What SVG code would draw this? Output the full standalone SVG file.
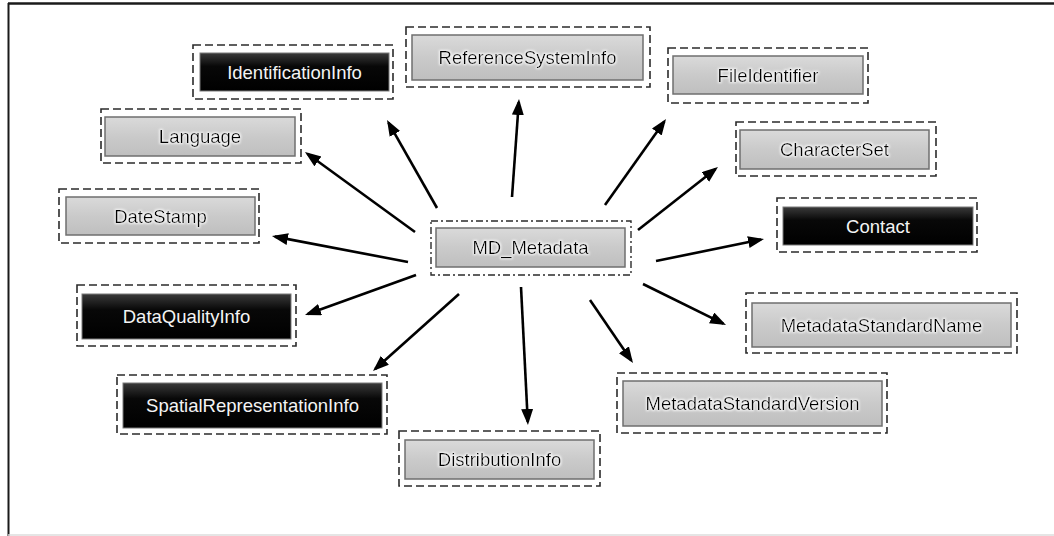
<svg xmlns="http://www.w3.org/2000/svg" width="1054" height="536" viewBox="0 0 1054 536">
  <defs>
    <linearGradient id="gGrey" x1="0" y1="0" x2="0" y2="1">
      <stop offset="0" stop-color="#dadada"/>
      <stop offset="0.5" stop-color="#cacaca"/>
      <stop offset="1" stop-color="#bfbfbf"/>
    </linearGradient>
    <linearGradient id="gBlack" x1="0" y1="0" x2="0" y2="1">
      <stop offset="0" stop-color="#3a3a3a"/>
      <stop offset="0.35" stop-color="#080808"/>
      <stop offset="1" stop-color="#000"/>
    </linearGradient>
    <!-- soft white halo behind dark labels -->
    <filter id="glow" x="-10%" y="-40%" width="120%" height="180%">
      <feMorphology in="SourceAlpha" operator="dilate" radius="1" result="d"/>
      <feGaussianBlur in="d" stdDeviation="1" result="b"/>
      <feFlood flood-color="#ffffff" flood-opacity="0.8"/>
      <feComposite in2="b" operator="in" result="halo"/>
      <feMerge>
        <feMergeNode in="halo"/>
        <feMergeNode in="SourceGraphic"/>
      </feMerge>
    </filter>
    <marker id="arrow" markerUnits="userSpaceOnUse" markerWidth="18" markerHeight="14" refX="13" refY="6" orient="auto">
      <path d="M0,0 L16,6 L0,12 Z" fill="#000"/>
    </marker>
    <style>
      .frame { stroke: #1a1a1a; fill: none; }
      .outer { fill: #fff; stroke: #2b2b2b; stroke-width: 1.6; stroke-dasharray: 8 4; }
      .outerMain { fill: #fff; stroke: #2b2b2b; stroke-width: 1.4; stroke-dasharray: 7 3 2 3; }
      .grey { fill: url(#gGrey); stroke: #6f6f6f; stroke-width: 1.5; }
      .black { fill: url(#gBlack); stroke: #7a7a7a; stroke-width: 1; }
      .lbl { font-family: "Liberation Sans", Arial, sans-serif; font-size: 18.5px; text-anchor: middle; }
      .dark { fill: #050505; filter: url(#glow); }
      .light { fill: #f4f4f4; }
      .conn line { stroke: #000; stroke-width: 2.6; marker-end: url(#arrow); }
    </style>
  </defs>

  <rect width="1054" height="536" fill="#fff"/>
  <!-- page frame -->
  <line class="frame" x1="8.5" y1="3" x2="8.5" y2="536" stroke-width="2"/>
  <line class="frame" x1="8" y1="3.5" x2="1054" y2="3.5" stroke-width="2.5"/>
  <line x1="8" y1="535" x2="1054" y2="535" stroke="#dcdcdc" stroke-width="1.5"/>

  <g class="conn">
    <line x1="437" y1="208" x2="388.5" y2="122.6"/>
    <line x1="512" y1="197" x2="518.8" y2="102"/>
    <line x1="605" y1="205" x2="664.3" y2="121.4"/>
    <line x1="638" y1="230" x2="715.6" y2="168.9"/>
    <line x1="656" y1="261" x2="761.1" y2="239.6"/>
    <line x1="643" y1="284" x2="723.3" y2="323.7"/>
    <line x1="590" y1="300" x2="631.3" y2="360.5"/>
    <line x1="521" y1="287" x2="527.8" y2="422"/>
    <line x1="459" y1="294" x2="375.2" y2="369"/>
    <line x1="416" y1="275" x2="307.8" y2="314"/>
    <line x1="408" y1="262" x2="274.9" y2="236.6"/>
    <line x1="415" y1="232" x2="307.4" y2="153.8"/>
  </g>

  <g id="md-metadata">
    <rect class="outerMain" x="431" y="221" width="200" height="54"/>
    <rect class="grey" x="436" y="228" width="189" height="39"/>
    <text class="lbl dark" x="530.5" y="254">MD_Metadata</text>
  </g>

  <g id="identification-info">
    <rect class="outer" x="193" y="45" width="200" height="54"/>
    <rect class="black" x="200" y="53" width="189" height="38"/>
    <text class="lbl light" x="294.5" y="78.5">IdentificationInfo</text>
  </g>

  <g id="reference-system-info">
    <rect class="outer" x="406" y="27" width="244" height="60"/>
    <rect class="grey" x="412" y="35" width="231" height="45"/>
    <text class="lbl dark" x="527.5" y="64">ReferenceSystemInfo</text>
  </g>

  <g id="file-identifier">
    <rect class="outer" x="668" y="48" width="200" height="55"/>
    <rect class="grey" x="673" y="56" width="190" height="38"/>
    <text class="lbl dark" x="768" y="81.5">FileIdentifier</text>
  </g>

  <g id="character-set">
    <rect class="outer" x="736" y="122" width="200" height="54"/>
    <rect class="grey" x="740" y="130" width="189" height="39"/>
    <text class="lbl dark" x="834.5" y="156">CharacterSet</text>
  </g>

  <g id="contact">
    <rect class="outer" x="777" y="198" width="200" height="54"/>
    <rect class="black" x="783" y="207" width="190" height="38"/>
    <text class="lbl light" x="878" y="232.5">Contact</text>
  </g>

  <g id="metadata-standard-name">
    <rect class="outer" x="746" y="293" width="271" height="60"/>
    <rect class="grey" x="752" y="303" width="259" height="44"/>
    <text class="lbl dark" x="881.5" y="331.5">MetadataStandardName</text>
  </g>

  <g id="metadata-standard-version">
    <rect class="outer" x="617" y="373" width="270" height="60"/>
    <rect class="grey" x="623" y="381" width="259" height="45"/>
    <text class="lbl dark" x="752.5" y="410">MetadataStandardVersion</text>
  </g>

  <g id="distribution-info">
    <rect class="outer" x="399" y="431" width="201" height="55"/>
    <rect class="grey" x="405" y="440" width="189" height="39"/>
    <text class="lbl dark" x="499.5" y="466">DistributionInfo</text>
  </g>

  <g id="spatial-representation-info">
    <rect class="outer" x="117" y="375" width="270" height="59"/>
    <rect class="black" x="123" y="383" width="259" height="45"/>
    <text class="lbl light" x="252.5" y="412">SpatialRepresentationInfo</text>
  </g>

  <g id="data-quality-info">
    <rect class="outer" x="77" y="285" width="219" height="61"/>
    <rect class="black" x="82" y="294" width="209" height="45"/>
    <text class="lbl light" x="186.5" y="323">DataQualityInfo</text>
  </g>

  <g id="date-stamp">
    <rect class="outer" x="59" y="189" width="200" height="54"/>
    <rect class="grey" x="66" y="197" width="189" height="38"/>
    <text class="lbl dark" x="160.5" y="222.5">DateStamp</text>
  </g>

  <g id="language">
    <rect class="outer" x="101" y="109" width="200" height="54"/>
    <rect class="grey" x="105" y="117" width="190" height="39"/>
    <text class="lbl dark" x="200" y="143">Language</text>
  </g>
</svg>
